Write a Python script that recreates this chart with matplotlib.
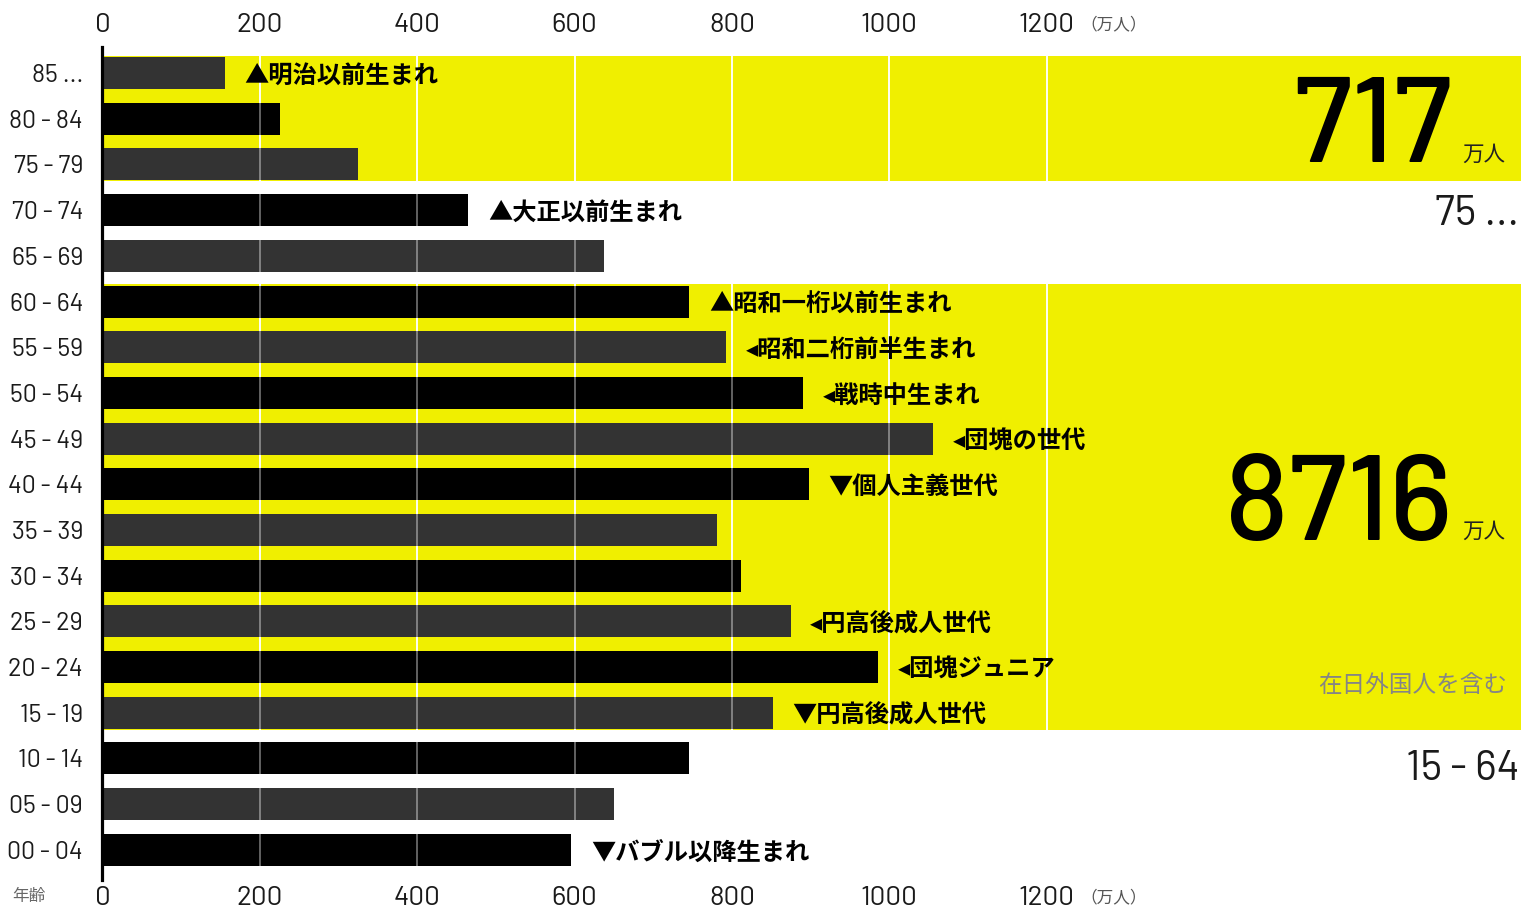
"""
Population by age group (万人) - horizontal bar chart with generation notes
"""

import matplotlib
matplotlib.use('Agg')
import matplotlib.pyplot as plt
from matplotlib import font_manager
from matplotlib.transforms import blended_transform_factory

# ============================================================================
# DATA
# ============================================================================

AGES = ['85 ...', '80 - 84', '75 - 79', '70 - 74', '65 - 69', '60 - 64',
        '55 - 59', '50 - 54', '45 - 49', '40 - 44', '35 - 39', '30 - 34',
        '25 - 29', '20 - 24', '15 - 19', '10 - 14', '05 - 09', '00 - 04']
POP = [156, 226, 325, 465, 638, 746, 793, 891, 1056, 898, 781, 811,
       875, 986, 852, 746, 650, 596]
TICKS = [0, 200, 400, 600, 800, 1000, 1200]

NOTE_AGES = ['85 ...', '70 - 74', '60 - 64', '55 - 59', '50 - 54', '45 - 49',
             '40 - 44', '25 - 29', '20 - 24', '15 - 19', '00 - 04']
NOTE_TEXTS = ['▲明治以前生まれ', '▲大正以前生まれ', '▲昭和一桁以前生まれ',
              '◂昭和二桁前半生まれ', '◂戦時中生まれ', '◂団塊の世代',
              '▼個人主義世代', '◂円高後成人世代', '◂団塊ジュニア',
              '▼円高後成人世代', '▼バブル以降生まれ']

BAND_NAMES = ['75 ...', '15 - 64']
BAND_FIRST = ['85 ...', '60 - 64']
BAND_LAST = ['75 - 79', '15 - 19']
BAND_TOTALS = ['717', '8716']

# ============================================================================

YELLOW = '#f0ef00'
TXT = '#1a1a1a'

names = {f.name for f in font_manager.fontManager.ttflist}
NUM_FONT = 'DejaVu Sans'
for cand in ['Barlow', 'Barlow Semi Condensed', 'Roboto Condensed']:
    if cand in names:
        NUM_FONT = cand
        break
JP = ['Noto Sans CJK JP', 'DejaVu Sans']
plt.rcParams['font.family'] = [NUM_FONT, 'Noto Sans CJK JP']

fig = plt.figure(figsize=(15.23, 9.11), dpi=100)
ax = fig.add_axes([102.5 / 1523, 31 / 911, (1521 - 102.5) / 1523, (880 - 47) / 911])

rows = list(range(len(AGES)))
colors = ['#333333' if i % 2 == 0 else '#000000' for i in rows]
ax.barh(rows, POP, height=0.7, color=colors, zorder=2)

# yellow bands
for first, last in zip(BAND_FIRST, BAND_LAST):
    ax.axhspan(AGES.index(first) - 0.38, AGES.index(last) + 0.37,
               color=YELLOW, lw=0, zorder=0)

# grid lines: white on the bands, faint over the bars
for t in TICKS[1:]:
    ax.axvline(t, color='white', lw=1.3, zorder=1)
    ax.axvline(t, color='white', lw=1.2, alpha=0.45, zorder=3)

ax.set_xlim(0, 1803)
ax.set_ylim(17.66, -0.57)

for s in ['top', 'right', 'bottom']:
    ax.spines[s].set_visible(False)
ax.spines['left'].set_linewidth(2.3)
ax.spines['left'].set_zorder(5)

ax.set_yticks(rows, AGES)
ax.tick_params(axis='y', length=0, pad=14, labelsize=18, labelcolor=TXT)
ax.set_xticks(TICKS)
ax.tick_params(axis='x', length=0, pad=4, labelsize=20, labelcolor=TXT)

sec = ax.secondary_xaxis('top')
sec.set_xticks(TICKS)
sec.tick_params(length=0, pad=7, labelsize=20, labelcolor=TXT)
sec.spines['top'].set_visible(False)

# generation notes
for age, txt in zip(NOTE_AGES, NOTE_TEXTS):
    i = AGES.index(age)
    ax.annotate(txt, xy=(POP[i], i), xytext=(14, -2), textcoords='offset points',
                va='center', ha='left', fontsize=17.5, fontweight='bold',
                family=JP, color='black', zorder=4)

# band totals
tr = blended_transform_factory(ax.transAxes, ax.transData)
big_y = [1.95, 10.22]
name_y = [3.1, 15.25]
for k, (nm, tot) in enumerate(zip(BAND_NAMES, BAND_TOTALS)):
    ax.text(0.9514, big_y[k], tot, transform=tr, ha='right', va='baseline',
            fontsize=87, fontweight='medium', color='black', family=NUM_FONT,
            zorder=4)
    ax.text(0.9584, big_y[k] - 0.04, '万人', transform=tr, ha='left', va='baseline',
            fontsize=15.5, color='#222222', family=JP, zorder=4)
    ax.text(0.9986, name_y[k], nm, transform=tr, ha='right', va='center',
            fontsize=30, color=TXT, family=NUM_FONT, zorder=4)

ax.text(0.9901, 13.4, '在日外国人を含む', transform=tr, ha='right', va='center',
        fontsize=17, color='#858585', family=JP, zorder=4)

# unit labels
utr = blended_transform_factory(ax.transData, ax.transAxes)
ax.annotate('（万人）', xy=(1200, 1), xycoords=utr, xytext=(24, 16),
            textcoords='offset points', va='center', ha='left',
            fontsize=12, color='#555555', family=JP, annotation_clip=False)
ax.annotate('（万人）', xy=(1200, 0), xycoords=utr, xytext=(24, -13),
            textcoords='offset points', va='center', ha='left',
            fontsize=12, color='#555555', family=JP, annotation_clip=False)
fig.text(12 / 1523, 1 - 897 / 911, '年齢', va='center', ha='left',
         fontsize=12, color='#666666', family=JP)

fig.savefig('out.png', dpi=100)
print("Saved out.png using", NUM_FONT)
